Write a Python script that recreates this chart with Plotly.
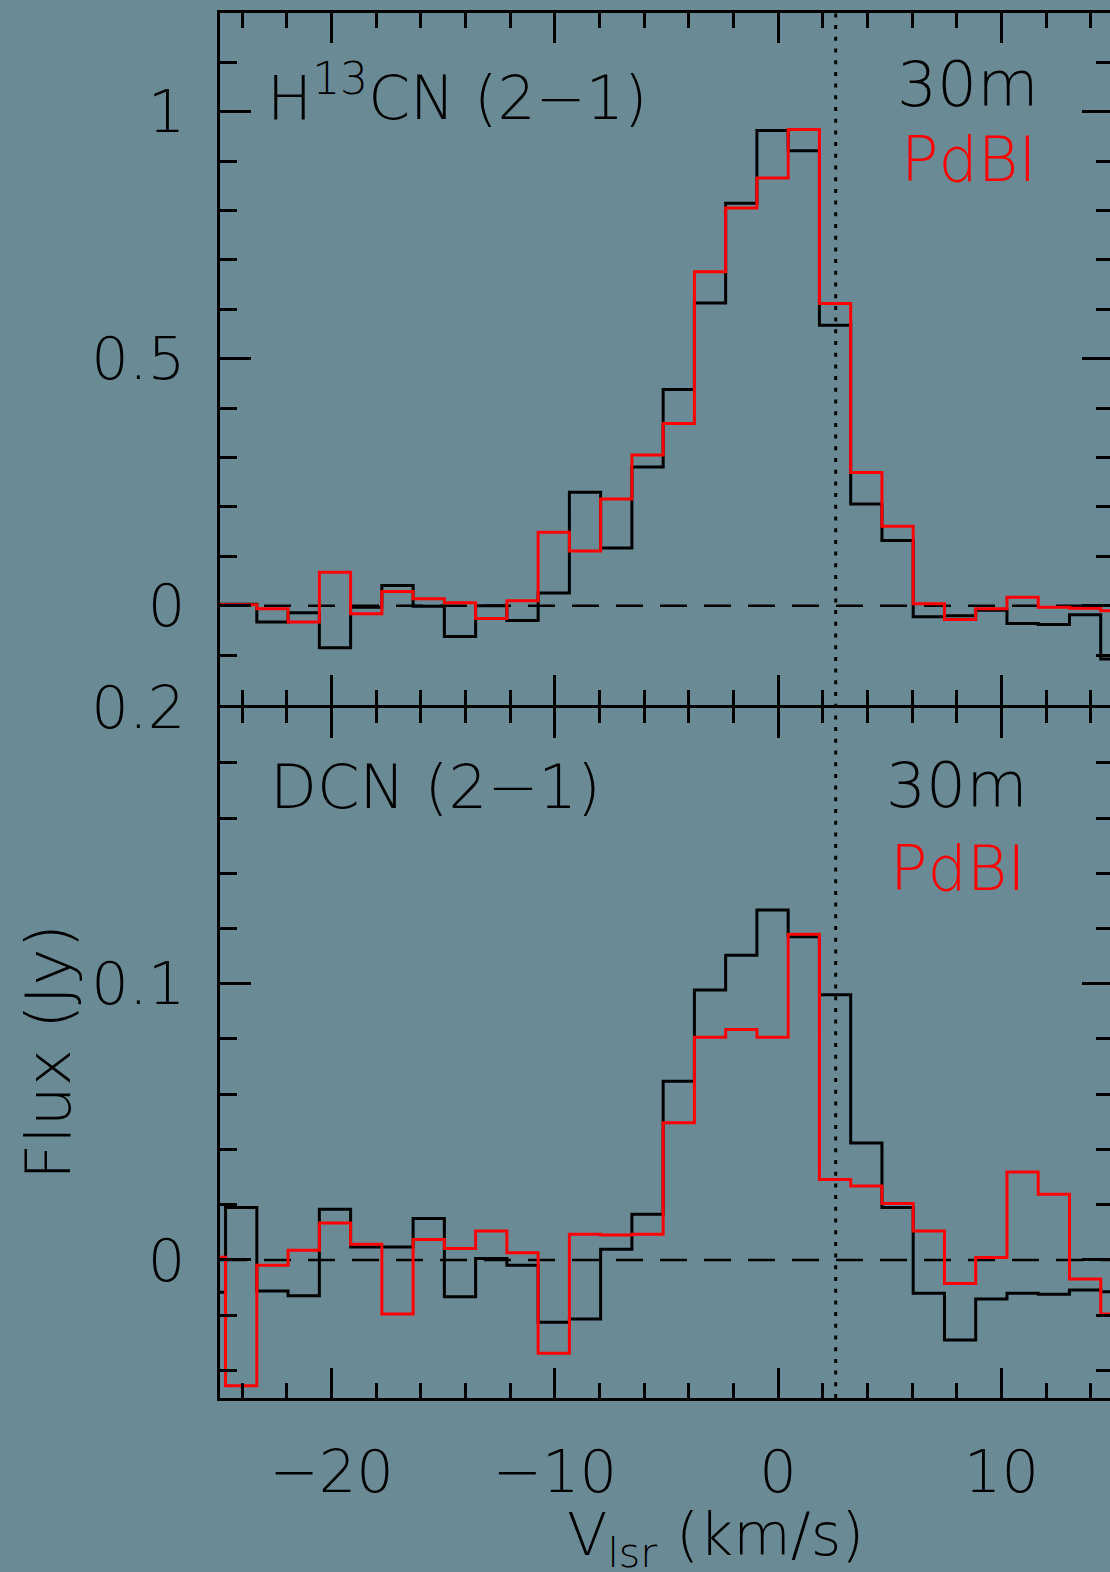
import plotly.graph_objects as go

# ---------------- data ----------------
velocity = [-25.45, -24.05, -22.65, -21.25, -19.85, -18.45, -17.05, -15.65, -14.25, -12.85,
            -11.45, -10.05, -8.65, -7.25, -5.85, -4.45, -3.05, -1.65, -0.25, 1.15,
            2.55, 3.95, 5.35, 6.75, 8.15, 9.55, 10.95, 12.35, 13.75, 15.15]

h13cn_30m = [0.003, 0.003, -0.033, -0.014, -0.085, -0.003, 0.041, -0.001, -0.062, 0.0,
             -0.030, 0.026, 0.230, 0.117, 0.281, 0.438, 0.613, 0.815, 0.962, 0.921,
             0.568, 0.206, 0.132, -0.022, -0.020, -0.009, -0.036, -0.038, -0.018, -0.108]

h13cn_pdbi = [0.002, 0.002, -0.006, -0.033, 0.068, -0.016, 0.029, 0.014, 0.006, -0.026,
              0.010, 0.149, 0.111, 0.216, 0.305, 0.369, 0.676, 0.805, 0.866, 0.964,
              0.612, 0.270, 0.161, 0.004, -0.028, -0.006, 0.017, -0.003, -0.005, -0.010]

dcn_30m = [-0.0117, 0.0190, -0.0113, -0.0130, 0.0183, 0.0047, 0.0047, 0.0150, -0.0133, 0.0005,
           -0.0019, -0.0226, -0.0214, 0.0039, 0.0165, 0.0647, 0.0977, 0.1103, 0.1267, 0.1170,
           0.0960, 0.0423, 0.0190, -0.0121, -0.0290, -0.0142, -0.0121, -0.0124, -0.0109, -0.0115]

dcn_pdbi = [0.0010, -0.0456, -0.0019, 0.0035, 0.0134, 0.0057, -0.0196, 0.0074, 0.0041, 0.0105,
            0.0026, -0.0338, 0.0093, 0.0090, 0.0093, 0.0497, 0.0806, 0.0834, 0.0806, 0.1179,
            0.0291, 0.0268, 0.0204, 0.0105, -0.0085, 0.0009, 0.0318, 0.0238, -0.0069, -0.0196]

v_sys = 2.58

x_range = [-25, 15]
x_ticks = [-20, -10, 0, 10]
top_range = [-0.2, 1.2]
top_ticks = [0, 0.5, 1]
top_tick_text = ["0", "0.5", "1"]
bot_range = [-0.05, 0.2]
bot_ticks = [0, 0.1, 0.2]
bot_tick_text = ["0", "0.1", "0.2"]

# ---------------- styling ----------------
BG = "#6a8b96"
FONT = "DejaVu Sans"
W, H = 1116, 1572
L, R, T, B = 220, 3, 13, 174
PW = W - L - R
PH = H - T - B


def px2x(px):
    return (px - L) / PW


def py2y(py):
    return (H - B - py) / PH


fig = go.Figure()

for xa, ya, s30, spdbi in (("x", "y", h13cn_30m, h13cn_pdbi), ("x2", "y2", dcn_30m, dcn_pdbi)):
    fig.add_trace(go.Scatter(x=velocity, y=s30, mode="lines", xaxis=xa, yaxis=ya,
                             line=dict(shape="hvh", color="black", width=3),
                             showlegend=False, hoverinfo="skip"))
    fig.add_trace(go.Scatter(x=velocity, y=spdbi, mode="lines", xaxis=xa, yaxis=ya,
                             line=dict(shape="hvh", color="#ff0000", width=3),
                             showlegend=False, hoverinfo="skip"))

tickfont = dict(family=FONT, size=59, color="black", weight=200)

xcommon = dict(range=x_range, showline=True, linecolor="black", linewidth=3, mirror="ticks",
               ticks="inside", ticklen=30, tickwidth=2.5, tickcolor="black",
               tickmode="array", tickvals=x_ticks, automargin=False,
               minor=dict(tickmode="linear", tick0=0, dtick=2, ticks="inside", ticklen=15,
                          tickwidth=2.5, tickcolor="black", showgrid=False),
               showgrid=False, zeroline=False, tickfont=tickfont, ticklabelstandoff=20)

ycommon = dict(showline=True, linecolor="black", linewidth=3, mirror="ticks",
               ticks="inside", ticklen=31, tickwidth=2.5, tickcolor="black",
               tickmode="array", showgrid=False, zeroline=False, tickfont=tickfont,
               ticklabelstandoff=20, automargin=False)

# the two panels share one frame line: leave a 3 px gap so both axis lines fall on it
split = 0.4996
gap = 1.5 / PH

fig.update_layout(
    width=W, height=H,
    margin=dict(l=L, r=R, t=T, b=B, pad=0, autoexpand=False),
    paper_bgcolor=BG, plot_bgcolor=BG,
    font=dict(family=FONT, color="black"),
    xaxis=dict(**xcommon, anchor="y", domain=[0, 1], showticklabels=False),
    xaxis2=dict(**xcommon, anchor="y2", domain=[0, 1], matches="x"),
    yaxis=dict(**ycommon, anchor="x", domain=[split + gap, 1], range=top_range,
               tickvals=top_ticks, ticktext=top_tick_text,
               minor=dict(tickmode="linear", tick0=0, dtick=0.1, ticks="inside", ticklen=17,
                          tickwidth=2.5, tickcolor="black", showgrid=False)),
    yaxis2=dict(**ycommon, anchor="x2", domain=[0, split - gap], range=bot_range,
                tickvals=bot_ticks, ticktext=bot_tick_text,
                minor=dict(tickmode="linear", tick0=0, dtick=0.02, ticks="inside", ticklen=17,
                           tickwidth=2.5, tickcolor="black", showgrid=False)),
)

# zero lines (dashed) and systemic velocity (dotted)
for yref in ("y", "y2"):
    fig.add_shape(type="line", xref="paper", yref=yref, x0=0, x1=1, y0=0, y1=0,
                  line=dict(color="black", width=2.5, dash="27px,17px"), layer="below")
fig.add_shape(type="line", xref="x", yref="paper", x0=v_sys, x1=v_sys, y0=0, y1=1,
              line=dict(color="black", width=3, dash="4px,7.7px"), layer="below")

annotations = [
    dict(text="H<sup><span style='font-size:44px'>13</span></sup>CN (2\u22121)", x=px2x(265), y=py2y(93),
         xanchor="left", yanchor="middle",
         font=dict(family=FONT, size=60, color="black", weight=200)),
    dict(text="30m", x=px2x(1041), y=py2y(84.5), xanchor="right", yanchor="middle",
         font=dict(family=FONT, size=63, color="black", weight=200)),
    dict(text="PdBI", x=px2x(1039), y=py2y(159.5), xanchor="right", yanchor="middle",
         font=dict(family=FONT, size=62, color="#ff0000", weight=200)),
    dict(text="DCN (2\u22121)", x=px2x(268), y=py2y(786.5), xanchor="left", yanchor="middle",
         font=dict(family=FONT, size=61, color="black", weight=200)),
    dict(text="30m", x=px2x(1030), y=py2y(785.5), xanchor="right", yanchor="middle",
         font=dict(family=FONT, size=63, color="black", weight=200)),
    dict(text="PdBI", x=px2x(1028), y=py2y(868.5), xanchor="right", yanchor="middle",
         font=dict(family=FONT, size=62, color="#ff0000", weight=200)),
    dict(text="V<sub>lsr</sub> (km/s)", x=px2x(715), y=py2y(1538), xanchor="center", yanchor="middle",
         font=dict(family=FONT, size=59, color="black", weight=200)),
    dict(text="Flux (Jy)", x=px2x(48), y=py2y(1052), xanchor="center", yanchor="middle",
         textangle=-90, font=dict(family=FONT, size=63, color="black", weight=200)),
]
for a in annotations:
    fig.add_annotation(xref="paper", yref="paper", showarrow=False, **a)

fig.write_html("out.html", config={"displayModeBar": False},
               post_script="document.body.style.margin='0';document.body.style.overflow='hidden';")
